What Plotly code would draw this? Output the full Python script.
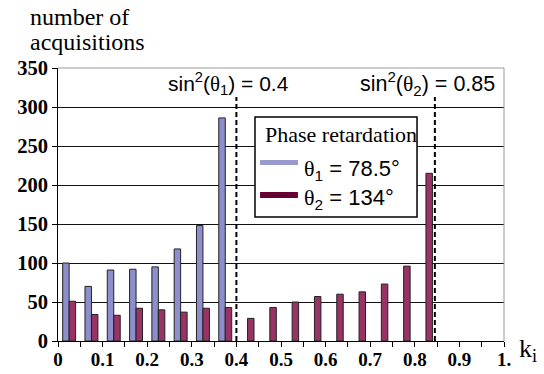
import plotly.graph_objects as go

# ---- data ----
bin_left = [0.00, 0.05, 0.10, 0.15, 0.20, 0.25, 0.30, 0.35, 0.40, 0.45,
            0.50, 0.55, 0.60, 0.65, 0.70, 0.75, 0.80, 0.85, 0.90, 0.95]
theta1_counts = [100, 70, 91, 92, 95, 118, 148, 286, None, None,
                 None, None, None, None, None, None, None, None, None, None]
theta2_counts = [51, 34, 33, 42, 40, 37, 42, 43, 29, 43,
                 50, 57, 60, 63, 73, 96, 215, None, None, None]
x_tick_vals = [0, 0.1, 0.2, 0.3, 0.4, 0.5, 0.6, 0.7, 0.8, 0.9, 1.0]
x_tick_text = ["0", "0.1", "0.2", "0.3", "0.4", "0.5", "0.6", "0.7", "0.8", "0.9", "1."]
threshold1 = 0.4
threshold2 = 0.845

BLUE = "#8c8fcb"
PLUM = "#993366"
BLUE_SW = "#9999cc"
PLUM_SW = "#660033"
SERIF = "Liberation Serif"
SANS = "Liberation Sans"

bw = 0.0145
centers = [b + 0.025 for b in bin_left]

fig = go.Figure()
fig.add_trace(go.Bar(x=centers, y=theta1_counts, width=bw, offset=-bw,
                     marker=dict(color=BLUE, line=dict(color="#222", width=1)),
                     showlegend=False))
fig.add_trace(go.Bar(x=centers, y=theta2_counts, width=bw, offset=0,
                     marker=dict(color=PLUM, line=dict(color="#222", width=1)),
                     showlegend=False))

fig.update_layout(
    width=544, height=374,
    margin=dict(l=58, r=40, t=68, b=33),
    paper_bgcolor="white", plot_bgcolor="white",
    font=dict(family=SERIF, color="black"),
    barmode="overlay",
    xaxis=dict(range=[0, 1], tickvals=x_tick_vals, ticktext=x_tick_text, automargin=False,
               showgrid=False, zeroline=False, showline=True, linecolor="black",
               linewidth=1, ticks="outside", ticklen=5, tickcolor="black",
               ticklabelstandoff=-4,
               minor=dict(dtick=0.05, ticks="outside", ticklen=5, tickcolor="black", showgrid=False),
               tickfont=dict(family=SERIF, size=19, color="black", weight="bold")),
    yaxis=dict(range=[0, 350], dtick=50, showgrid=True, gridcolor="#111", gridwidth=1,
               automargin=False,
               zeroline=False, showline=True, linecolor="black", linewidth=1,
               ticks="outside", ticklen=5, tickcolor="black",
               tickfont=dict(family=SERIF, size=20.5, color="black", weight="bold")),
)

shapes = []
# frame top/right (gray)
shapes.append(dict(type="line", xref="paper", yref="paper", x0=1, x1=1, y0=0, y1=1,
                   line=dict(color="#999", width=1)))
shapes.append(dict(type="line", xref="paper", yref="paper", x0=0, x1=1, y0=1, y1=1,
                   line=dict(color="#999", width=1)))
# dashed thresholds
for t in (threshold1, threshold2):
    shapes.append(dict(type="line", xref="x", yref="paper", x0=t, x1=t, y0=0, y1=0.894,
                       line=dict(color="black", width=2, dash="5px,3px")))
# legend box
shapes.append(dict(type="rect", xref="paper", yref="paper", x0=0.4417, x1=0.805,
                   y0=0.454, y1=0.8205, fillcolor="white",
                   line=dict(color="black", width=1.5), layer="above"))
shapes.append(dict(type="line", xref="paper", yref="paper", x0=0.453, x1=0.538,
                   y0=0.654, y1=0.654, line=dict(color=BLUE_SW, width=5), layer="above"))
shapes.append(dict(type="line", xref="paper", yref="paper", x0=0.453, x1=0.538,
                   y0=0.535, y1=0.535, line=dict(color=PLUM_SW, width=6), layer="above"))
fig.update_layout(shapes=shapes)

TH = '<span style="font-family:Liberation Serif">θ</span>'
ann = [
    dict(text="number of", x=-0.067, y=1.185, font=dict(family=SERIF, size=24)),
    dict(text="acquisitions", x=-0.067, y=1.097, font=dict(family=SERIF, size=24)),
    dict(text="sin<sup>2</sup>(" + TH + "<sub>1</sub>) = 0.4", x=0.242, y=0.945,
         font=dict(family=SANS, size=21)),
    dict(text="sin<sup>2</sup>(" + TH + "<sub>2</sub>) = 0.85", x=0.673, y=0.945,
         font=dict(family=SANS, size=21.5)),
    dict(text="Phase retardation", x=0.4596, y=0.758, font=dict(family=SERIF, size=22)),
    dict(text=TH + "<sub>1</sub> = 78.5°", x=0.548, y=0.626, font=dict(family=SANS, size=22)),
    dict(text=TH + "<sub>2</sub> = 134°", x=0.548, y=0.520, font=dict(family=SANS, size=22)),
    dict(text="k<sub>i</sub>", x=1.029, y=-0.033, font=dict(family=SERIF, size=26)),
]
for a in ann:
    a.update(xref="paper", yref="paper", xanchor="left", yanchor="middle", showarrow=False)
    a["font"]["color"] = "black"
fig.update_layout(annotations=ann)

fig.write_html("out.html")
